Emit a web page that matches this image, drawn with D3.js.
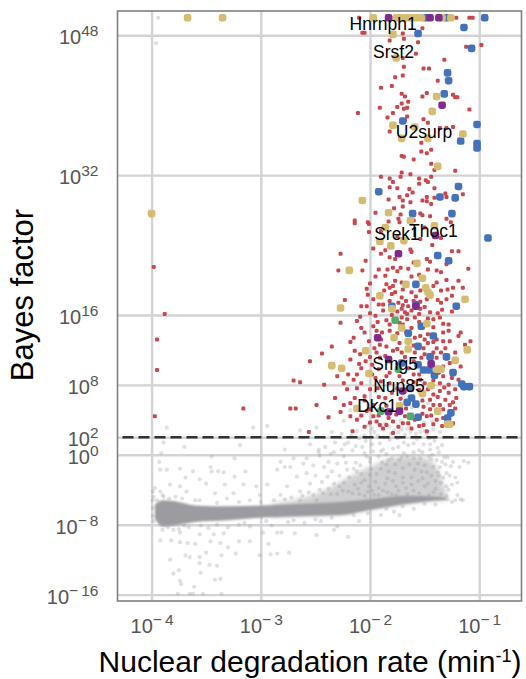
<!DOCTYPE html>
<html>
<head>
<meta charset="utf-8">
<script src="https://cdn.jsdelivr.net/npm/d3@7"></script>
<style>
body { margin: 0; background: #fff; }
text { font-family: "Liberation Sans", Arial, sans-serif; }
</style>
</head>
<body>
<div id="chart"></div>
<script>
// All points are [log10 rate, log10 Bayes factor]
var xTicks = [-4, -3, -2, -1];
var yTicks = [48, 32, 16, 8, 2, 0, -8, -16];
var cutoff = 2;

// dense band of the non significant genes
var bandX = [-3.97, -3.9, -3.8, -3.6, -3.3, -3, -2.6, -2.27, -2, -1.66, -1.36, -1.27];
var bandHi = [-5.7, -5.2, -5.3, -5.8, -5.9, -5.8, -5.6, -5.4, -5.1, -4.7, -4.8, -5.1];
var bandLo = [-7.3, -8.2, -8.1, -7.7, -7.5, -7.2, -7.0, -6.9, -6.3, -5.6, -5.2, -5.15];

// soft fog above the band
var cloudX = [-2.9, -2.6, -2.4, -2.2, -2.0, -1.8, -1.6, -1.45, -1.36, -1.29];
var cloudHi = [-5.6, -4.9, -4.0, -2.6, -1.4, -0.4, -0.2, -0.6, -2.2, -4.9];

var greyPoints = [
    [-3.94, 50], [-3.96, 47.1], [-3.86, 3.1], [-3.07, 3.1], [-2.94, 3.3], [-3.19, 1.1], [-3.7, 0.9], [-3.89, 1.4],
    [-2.78, 0.6], [-2.64, 2.8], [-2.49, 3.1], [-2.35, 2.6], [-2.26, 2.4], [-2.47, 0.6], [-2.33, 0.3],
    [-3.76, -15.9], [-3.65, -15.9], [-3.62, -15.9], [-3.53, -15.9], [-3.36, -15.9], [-3.61, -15.1], [-3.74, -14.4],
    [-3.73, -14.8], [-3.8, -13.6], [-3.75, -13.2], [-3.55, -13.5], [-3.42, -14.3], [-3.37, -14.2], [-3.47, -12.6],
    [-3.4, -12.7], [-3.56, -12.4], [-3.83, -12], [-3.69, -11.5], [-3.65, -11.7], [-3.56, -11.7], [-3.5, -11.2],
    [-3.36, -11.5], [-3.3, -10.6], [-3.23, -11.3], [-3.01, -11.5], [-2.91, -11.4], [-2.85, -11.3], [-2.74, -11.2],
    [-2.93, -10.2], [-3.1, -9.9], [-3.2, -9.9], [-3.37, -10.1], [-3.46, -9.9], [-3.6, -10.2], [-3.67, -10.1],
    [-3.74, -10], [-3.82, -9.8], [-3.92, -9.8], [-3.56, -9.1], [-3.43, -9.1], [-3.34, -9], [-3.74, -8.9],
    [-2.85, -8.9], [-2.69, -9], [-2.49, -9.2], [-2.98, -8.9], [-2.81, -8.9], [-2.33, -8.6], [-2.2, -9.4], [-1.73, -6.9],
    [-3.91, 0.2], [-3.93, -0.8], [-3.92, -1.7], [-3.86, -1.7], [-3.74, -1.6], [-3.62, -1.9], [-3.46, -1.4], [-3.45, -1.9],
    [-3.39, -1.9], [-3.34, -2], [-3.14, -1.9], [-3.24, -0.4], [-3.45, -0.2], [-3.24, -2.5], [-3.33, -3.4], [-3.42, -4.4],
    [-3.5, -3.3], [-3.56, -2.8], [-3.69, -2.6], [-3.74, -3.6], [-3.83, -3.4], [-3.97, -3.8], [-3.98, -4.8], [-3.92, -4.2],
    [-3.89, -4.8], [-3.68, -4.2], [-3.56, -5.2], [-3.31, -5], [-3.25, -4.4], [-3.16, -3.4], [-3.04, -3.6], [-3.01, -4.6],
    [-2.94, -3.4], [-2.82, -0.8], [-2.85, -1.7], [-2.78, -1.4], [-2.73, -1.4], [-2.61, -1], [-2.47, 0.3], [-2.52, -1.2],
    [-2.67, -2.5], [-2.76, -3.6], [-2.64, -4.2], [-2.55, -3.3], [-2.46, -4], [-2.39, -2.5], [-2.3, -1], [-2.24, -0.2],
    [-2.21, -1.7], [-2.33, -3.3], [-2.49, -5.2], [-2.64, -5.2], [-2.82, -4.6], [-2.88, -5.2], [-3.1, -5.2],
    [-3.99, -4.2], [-3.99, -5.2], [-3.99, -6.1], [-3.99, -7], [-3.98, -7.6], [-3.9, -8.6], [-3.8, -8.6], [-3.66, -8.3],
    [-2.2, 1.4], [-2.16, 0.5], [-2.13, -0.9], [-2.1, 1.9], [-2.08, -2.2], [-2.05, 0.2], [-2.02, 3.4], [-2.0, -0.8],
    [-1.98, 1.2], [-1.95, -3.1], [-1.93, 2.2], [-1.9, -1.6], [-1.88, 0.6], [-1.86, 3.6], [-1.84, -2.7], [-1.82, 1.7],
    [-1.8, -0.4], [-1.78, 2.8], [-1.76, -3.6], [-1.74, 0.9], [-1.72, 3.9], [-1.7, -1.5], [-1.68, 2.3], [-1.66, -0.2],
    [-1.64, 3.4], [-1.62, -2.6], [-1.6, 1.3], [-1.58, 4.4], [-1.56, -1], [-1.54, 2.6], [-1.52, 0.3], [-1.5, 3.7],
    [-1.48, -2], [-1.46, 1.9], [-1.44, -0.5], [-1.42, 2.9], [-1.4, -3], [-1.38, 0.8], [-1.36, -1.4], [-1.34, 1.1],
    [-1.32, -0.3], [-1.3, -2.1], [-1.28, -4], [-1.26, -1.3], [-1.24, -0.8], [-1.22, -2.6], [-1.2, -3.2], [-1.18, -1.4],
    [-1.17, -5.1], [-1.15, -5.2], [-1.2, -4.6], [-1.14, -0.7], [-1.1, -0.9], [-1.25, -3.4],
    [-2.24, 3.9], [-2.18, 5.1], [-2.1, 4.2], [-2.02, 5.6], [-1.95, 4.4], [-1.87, 6.1], [-1.8, 5.2], [-1.7, 6.6],
    [-1.62, 5.4], [-1.55, 7.1], [-1.47, 5.9], [-1.38, 4.8], [-1.31, 3.4], [-1.4, 6.8], [-1.76, 7.4], [-1.95, 7.2],
    [-2.02, -4.2], [-1.96, -4.6], [-1.88, -4.1], [-1.8, -4.5], [-1.7, -3.2], [-1.6, -4.1], [-1.5, -3.6], [-1.42, -4.3],
    [-2.14, -3.4], [-2.2, -4.2], [-2.28, -3.6], [-2.36, -4.5], [-2.42, -1.4], [-2.58, -2.1], [-2.7, -0.4], [-2.12, -1.9],
    [-2.08, -3.2], [-2.0, -2.3], [-1.92, -0.2], [-1.85, -1.1], [-1.77, -2.1], [-1.69, 1.4], [-1.6, -0.4], [-1.53, -1.9],
    [-1.45, 0.6], [-1.37, -2.4], [-2.3, -8.2], [-2.1, -7.6], [-2.6, -7.8], [-2.9, -8.1], [-3.1, -8.2], [-3.3, -8.3],
    [-1.9, -6.9], [-1.78, -6.5], [-1.6, -6.2], [-1.4, -5.7], [-2.45, -7.6], [-2.75, -7.7], [-3.48, -8.4], [-3.2, -8.0],
    // the thick part of the cloud
    [-2.58, -0.4], [-2.55, 1.2], [-2.5, -2.4], [-2.44, -3.1], [-2.41, 0.9], [-2.38, -0.8], [-2.35, -1.9], [-2.32, 1.4],
    [-2.28, -2.4], [-2.26, 0.6], [-2.24, -3.2], [-2.22, -0.9], [-2.19, -2.6], [-2.17, 2.2], [-2.15, -1.6], [-2.13, 1],
    [-2.11, -3.9], [-2.09, -1.2], [-2.07, 0.9], [-2.05, -2.9], [-2.04, 1.6], [-2.03, -0.2], [-2.01, -3.6], [-1.99, -1.6],
    [-1.97, 0.4], [-1.96, 2.6], [-1.94, -2.2], [-1.92, -3.8], [-1.91, 1.3], [-1.89, -0.9], [-1.87, 2], [-1.86, -3.3],
    [-1.85, 0.1], [-1.83, -1.9], [-1.81, 2.4], [-1.79, -3], [-1.79, 0.7], [-1.77, -1.1], [-1.75, 1.9], [-1.74, -4.1],
    [-1.73, -0.6], [-1.71, 2.9], [-1.7, -2.6], [-1.69, 0.2], [-1.67, -3.8], [-1.65, 1.1], [-1.64, -1.1], [-1.63, 2.6],
    [-1.62, -3.4], [-1.6, 0.3], [-1.59, -1.7], [-1.57, 1.8], [-1.56, -3], [-1.55, 0.5], [-1.54, -0.4], [-1.53, 3.2],
    [-1.52, -2.7], [-1.51, 1.2], [-1.5, -1.2], [-1.48, 2.4], [-1.47, -3.3], [-1.46, -0.2], [-1.45, 1.2], [-1.44, -2.4],
    [-1.43, 0], [-1.42, -1.4], [-1.41, 1.6], [-1.4, -3.9], [-1.39, -0.6], [-1.38, -2], [-1.37, 0.3], [-1.35, -3.2],
    [-1.34, -0.8], [-1.33, -2.6], [-1.31, -1.1], [-1.3, -3.6], [-1.29, -0.3], [-1.27, -2.4], [-2.46, -0.1], [-2.36, 0.1],
    [-2.23, 1.2], [-2.12, 2.7], [-2.05, 2.2], [-1.98, 3], [-1.9, 3.3], [-1.82, 3.2], [-1.74, 2.6], [-1.66, 3],
    [-1.58, 2.4], [-1.5, 2.7], [-1.43, 3.8], [-1.36, 2.6], [-1.9, 0.4], [-2.0, -0.4], [-1.83, -0.6], [-1.71, -0.3],
    [-2.62, -4.7], [-2.56, -4.3], [-2.52, -4.6], [-2.43, -4.4], [-2.38, -3.9], [-2.3, -4.5], [-2.25, -4.1], [-2.16, -4.4],
    [-2.1, -4.5], [-2.05, -4.7], [-1.98, -4.1], [-1.92, -4.6], [-1.84, -4.3], [-1.76, -4.6], [-1.66, -4.5], [-1.55, -4.4],
    [-1.46, -4.6], [-1.35, -4.5], [-1.3, -4.7], [-2.72, -4.9], [-2.78, -5.1], [-3.0, -5.4], [-3.2, -5.4], [-3.4, -5.5],
    [-3.6, -5.2], [-3.78, -4.8], [-3.84, -5], [-3.72, -5], [-3.9, -4.6], [-3.95, -5.2], [-3.93, -7.6], [-3.85, -8.3],
    [-3.75, -8.5], [-3.7, -8.1], [-3.55, -8.1], [-3.4, -8], [-3.15, -7.8], [-2.95, -7.6], [-2.7, -7.5], [-2.5, -7.4],
    [-2.35, -7.2], [-2.15, -6.9], [-2.02, -6.7], [-1.85, -6.2], [-1.7, -5.9], [-1.5, -5.6], [-1.25, -5.4], [-1.22, -5.2]
];

var redPoints = [
    [-2.10, 50], [-1.21, 50], [-1.09, 50], [-1.06, 50], [-2.07, 48.3], [-2.05, 48.3], [-1.70, 48.2], [-1.69, 47.6],
    [-1.82, 47.4], [-1.56, 47.2], [-1.52, 48.8], [-1.58, 45.9], [-1.12, 46.7], [-0.98, 46.9], [-1.70, 45.4], [-1.69, 44.4],
    [-1.32, 45.2], [-1.51, 44.2], [-1.46, 44.2], [-1.77, 43.2], [-1.70, 43.4], [-1.38, 42.8], [-1.90, 42], [-1.80, 42.2],
    [-1.71, 41.3], [-1.68, 41], [-1.52, 41], [-1.48, 41.4], [-1.24, 41.2], [-1.22, 40.9], [-1.20, 40.9], [-1.65, 40.4],
    [-1.71, 40.2], [-1.75, 39.8], [-1.69, 39.6], [-1.66, 39.7], [-1.91, 39.7], [-2.11, 39.1], [-1.79, 39.1], [-1.84, 38.6],
    [-1.66, 38.7], [-1.68, 38.3], [-1.51, 38.4], [-1.47, 38], [-1.09, 39.5], [-1.82, 37], [-1.36, 37.4], [-1.30, 37.4],
    [-1.24, 37.5], [-1.53, 35.7], [-1.53, 34.7], [-1.44, 34.9], [-1.48, 34.5], [-1.71, 34.2], [-1.69, 34.1], [-1.60, 33.8],
    [-1.44, 33.3], [-1.41, 32.6], [-1.22, 32.5], [-1.71, 32.3], [-1.63, 32.1], [-1.72, 31.8], [-1.90, 31.8], [-1.82, 31.6],
    [-1.79, 31.2], [-1.55, 31.6], [-1.49, 31.4], [-1.44, 31.8], [-1.47, 31.2], [-1.55, 31], [-1.82, 30.6], [-1.75, 30.5],
    [-1.41, 30.5], [-1.64, 30.4], [-1.61, 30], [-1.66, 29.7], [-1.73, 29.5], [-1.83, 29.2], [-1.70, 29.1], [-1.63, 28.9],
    [-1.52, 29.1], [-1.48, 29.5], [-1.48, 29], [-1.44, 28.7], [-1.41, 29.4], [-1.31, 29.9], [-1.30, 29.5], [-1.15, 29.8],
    [-1.70, 28.4], [-1.78, 28.2], [-1.54, 27.6], [-1.52, 27.4], [-1.45, 27.3], [-1.30, 27], [-1.26, 26.6], [-1.83, 26.7],
    [-1.73, 26.6], [-2.14, 26.5], [-2.01, 26.4],
    [-3.98, 21.5], [-3.88, 16.1], [-3.95, 13.2], [-3.95, 9.7], [-3.97, 4.4], [-3.16, 5.3], [-2.73, 5.3], [-2.70, 8.5],
    [-2.56, 2.6], [-2.44, 11.6], [-2.55, 10.7], [-2.64, 8.3], [-2.68, 5.3], [-2.49, 5.7], [-2.32, 6.5], [-2.27, 4.9],
    [-2.23, 17.7], [-2.18, 12.9], [-2.42, 8], [-2.29, 21.1], [-2.35, 12.4], [-2.38, 4.3], [-2.3, 9],
    [-2.14, 26.8], [-2.02, 26.6], [-2.01, 25.5], [-1.74, 27], [-2.27, 23], [-2.04, 22.2], [-1.86, 23.4], [-1.82, 22.6],
    [-1.77, 22.4], [-1.62, 23.2], [-1.48, 22.4], [-1.45, 22.1], [-1.25, 23.3], [-1.19, 23.3], [-1.54, 24.7], [-1.63, 23.5],
    [-1.92, 21.2], [-2.07, 21.1], [-1.84, 21.2], [-1.79, 21.4], [-1.72, 21.4], [-1.65, 21.3], [-1.39, 21.1], [-1.35, 20.9],
    [-1.10, 21.3], [-1.47, 21.2], [-1.30, 21.8], [-1.86, 20.5], [-1.77, 19.9], [-1.71, 19.7], [-1.62, 20.4], [-1.82, 19.1],
    [-1.79, 19.3], [-1.85, 19.5], [-1.39, 19.7], [-1.30, 20], [-1.19, 19.9], [-1.24, 19.1], [-1.35, 18.8], [-1.29, 18.9],
    [-1.70, 18.9], [-1.62, 18.6], [-1.54, 18.8], [-1.77, 18.6], [-1.80, 18.4], [-2.03, 19], [-2.02, 18.3], [-1.97, 17.8],
    [-1.38, 17.7], [-1.35, 17.4], [-1.30, 17.8], [-1.48, 17.8], [-1.54, 17.5], [-1.71, 18], [-1.67, 17.6], [-1.82, 17.6],
    [-1.88, 17.2], [-1.92, 17.2], [-2.03, 17], [-2.08, 17], [-1.70, 17.1], [-1.65, 17], [-1.71, 16.7], [-1.68, 16.3],
    [-1.62, 16.5], [-1.54, 16.7], [-1.45, 16.3], [-1.38, 16.2], [-1.88, 16.5], [-1.95, 15.9], [-2.09, 15.8], [-2.12, 15.3],
    [-2.27, 15.1], [-1.71, 15.7], [-1.66, 15.5], [-1.59, 15.7], [-1.42, 15.5], [-1.33, 15], [-1.28, 14.9], [-1.97, 14.7],
    [-1.82, 14.9], [-1.62, 14.5], [-1.73, 15.1], [-2.08, 14.5], [-1.89, 14], [-1.94, 14.2], [-1.82, 14.2], [-1.54, 13.6],
    [-1.33, 14], [-1.28, 14.2], [-1.17, 14], [-1.19, 13.6], [-1.47, 13.8], [-1.59, 13.4], [-2.01, 13], [-1.39, 13.2],
    [-1.33, 13], [-1.27, 13], [-1.08, 13], [-1.13, 12.6], [-1.73, 12.8], [-1.85, 12.4], [-1.91, 12.6], [-1.47, 12.8],
    [-1.51, 12.2], [-1.39, 12.2], [-1.31, 12.2], [-2.14, 11.9], [-2.09, 11.5], [-1.94, 11.7], [-1.79, 11.9], [-1.71, 11.7],
    [-1.59, 11.7], [-1.35, 11.7], [-1.22, 11.7], [-1.39, 11.1], [-2.04, 10.7], [-2.18, 10.9], [-1.91, 11.1], [-1.60, 10.7],
    [-1.53, 11.1], [-1.27, 10.5], [-1.17, 10.1], [-1.33, 10.1], [-2.08, 9.9], [-1.92, 9.8], [-2.20, 9.2], [-2.12, 9.2],
    [-1.95, 8.8], [-1.85, 9], [-1.60, 9.2], [-1.33, 9], [-1.25, 8.8], [-1.19, 8.6], [-1.54, 8.6], [-1.73, 9],
    [-2.08, 8.2], [-2.24, 8.2], [-1.36, 8.2], [-1.28, 8], [-1.82, 8.2], [-1.50, 8.2], [-2.0, 7.5], [-2.21, 7.5],
    [-1.80, 7.1], [-1.22, 7.5], [-1.36, 7.3], [-1.28, 7.1], [-1.42, 6.9], [-2.14, 6.5], [-2.05, 6.7], [-1.86, 6.5],
    [-2.24, 5.7], [-1.45, 6.3], [-1.31, 6.3], [-1.21, 6.5], [-1.36, 5.7], [-1.27, 5.7], [-1.51, 5.5], [-1.97, 5.7],
    [-1.45, 5.2], [-2.03, 5], [-2.18, 4.4], [-2.12, 4], [-1.97, 4.4], [-1.83, 4.2], [-1.48, 4.4], [-1.39, 4],
    [-1.33, 4.2], [-1.94, 3.8], [-1.91, 3.4], [-1.79, 3.8], [-1.70, 3.6], [-1.65, 3.6], [-1.59, 4], [-1.24, 3.6],
    [-1.51, 3.4], [-2.05, 3.2], [-1.88, 3], [-2.16, 2.7], [-1.79, 2.5], [-1.48, 2.7],
    [-1.6, 22], [-1.97, 23.6], [-1.9, 23], [-1.43, 24], [-1.75, 21], [-1.55, 20.6], [-1.95, 20.4], [-2, 19.6],
    [-1.87, 18.8], [-1.58, 18.1], [-1.42, 19.3], [-1.25, 18.2], [-1.15, 19.1], [-1.74, 17.4], [-1.6, 17.6], [-1.5, 16.9],
    [-1.34, 16.6], [-1.25, 16.4], [-2.0, 16.2], [-1.8, 16], [-1.75, 16.4], [-1.66, 16.1], [-1.55, 16.1], [-1.47, 15.6],
    [-1.36, 15.7], [-1.85, 15.4], [-1.93, 15.2], [-1.7, 14.9], [-1.55, 15.2], [-1.42, 14.6], [-1.67, 14.1], [-1.75, 13.9],
    [-2.15, 13.4], [-2.05, 14], [-1.9, 13.2], [-1.5, 13.2], [-1.42, 12.9], [-1.6, 12.5], [-1.75, 12.1], [-1.96, 12.2],
    [-2.0, 11.2], [-1.86, 11.3], [-1.68, 11.2], [-1.5, 11.5], [-1.42, 11.7], [-1.29, 11.1], [-1.75, 10.4], [-1.98, 10.3],
    [-2.1, 10.4], [-1.65, 9.9], [-1.37, 9.4], [-1.82, 9.4], [-1.55, 9.2], [-1.98, 9.2], [-2.15, 8.6], [-1.9, 8.4],
    [-1.7, 8.5], [-1.6, 8.3], [-1.42, 8.5], [-2.12, 7.6], [-1.93, 7.6], [-1.75, 7.6], [-1.55, 7.4], [-1.47, 7.5],
    [-1.32, 7.7], [-2.05, 6.2], [-1.92, 6.6], [-1.72, 6.4], [-1.52, 6.2], [-1.38, 6.6], [-1.24, 6], [-2.18, 5.9],
    [-2.0, 5.2], [-1.85, 5.6], [-1.67, 5.3], [-1.42, 5.7], [-1.33, 5.2], [-1.22, 5.3], [-2.08, 4.5], [-1.92, 4.5],
    [-1.76, 4.6], [-1.68, 4.4], [-1.52, 4.7], [-1.44, 4.5], [-1.85, 3.4], [-1.74, 3.2], [-1.62, 3], [-1.55, 3.3],
    [-1.42, 3.5], [-1.34, 3.3], [-2.0, 3.7], [-1.72, 27.5], [-1.95, 27.7], [-1.6, 26.8], [-1.5, 26], [-1.35, 24.8],
    [-1.75, 25], [-1.9, 25.6]
];

var tanPoints = [
    [-3.67, 50], [-3.35, 50], [-4.0, 27.6], [-1.97, 50], [-1.76, 50], [-1.72, 50], [-1.67, 50], [-1.63, 50], [-1.58, 50],
    [-1.53, 50], [-1.34, 50], [-1.26, 50], [-1.79, 48.1], [-1.76, 45.4], [-1.39, 41], [-1.43, 39.3], [-1.79, 37.7],
    [-1.59, 37.5], [-1.71, 36.2], [-1.47, 36.2], [-1.15, 36.7], [-1.38, 33], [-2.07, 29.1], [-1.83, 27.7], [-1.63, 26.8],
    [-1.41, 26.2], [-1.91, 24.4], [-1.81, 23.9], [-1.69, 24.5], [-1.86, 26], [-1.57, 21.9], [-2.19, 21.1], [-1.67, 19.5],
    [-1.52, 20.2], [-1.49, 19.1], [-1.47, 18.6], [-1.45, 18.3], [-1.91, 18.2], [-1.13, 17.8], [-1.80, 16.7], [-2.27, 16.8],
    [-1.48, 15], [-1.71, 14.5], [-1.78, 13.4], [-1.65, 13], [-1.65, 12.1], [-2.04, 11.9], [-1.11, 12], [-1.22, 10.8],
    [-1.39, 9.8], [-1.35, 9.8], [-2.26, 9.9], [-2.01, 9.3], [-1.44, 7.9], [-1.52, 7], [-2.12, 5.3], [-1.73, 5.6],
    [-1.38, 5], [-1.29, 3.5], [-1.27, 3.5], [-2.35, 10.2]
];

var bluePoints = [
    [-1.49, 50], [-1.30, 50], [-0.95, 50], [-1.14, 48.9], [-1.56, 48.2], [-1.07, 46.5], [-1.29, 43.7], [-1.28, 42.8],
    [-1.32, 41.3], [-1.70, 38.2], [-1.02, 37.8], [-1.17, 35.9], [-1.02, 35.6], [-1.02, 35.1], [-1.19, 30.7], [-1.92, 30.1],
    [-1.36, 29.5], [-1.22, 29.4], [-1.25, 27.6], [-1.61, 27.6], [-0.92, 24.8], [-1.38, 22.8], [-1.28, 22.2], [-1.58, 19.5],
    [-1.21, 17], [-1.8, 17], [-1.58, 17.2], [-1.53, 14.7], [-1.65, 13.9], [-1.42, 13.6], [-1.56, 12.4], [-1.45, 11.2],
    [-1.30, 11.2], [-1.71, 10.5], [-1.56, 10.3], [-1.51, 9.7], [-1.46, 9.7], [-1.41, 9.1], [-1.24, 9.4], [-1.16, 8.1],
    [-1.14, 7.8], [-1.09, 7.8], [-1.63, 7.6], [-1.62, 6.5], [-1.66, 6], [-1.58, 5.8], [-1.56, 4.3], [-1.26, 4.8], [-1.29, 4.2]
];

var purplePoints = [
    [-1.83, 50], [-1.45, 50], [-1.37, 50], [-1.34, 40], [-1.40, 25.1], [-1.74, 23], [-1.58, 17], [-1.93, 13.4],
    [-1.83, 10.9], [-1.44, 10.4], [-1.70, 7.3], [-1.83, 4.9], [-1.73, 5]
];

var greenPoints = [[-1.77, 15.4], [-1.74, 9.8], [-1.90, 5], [-1.63, 4.4]];

var geneNames = ["Hnrnph1", "Srsf2", "U2surp", "Srek1", "Thoc1", "Smg5", "Nup85", "Dkc1"];
var geneX = [-1.88, -1.785, -1.505, -1.753, -1.42, -1.77, -1.735, -1.935];
var geneY = [49.3, 46.1, 36.9, 25.3, 25.6, 10.4, 7.9, 5.6];

function pow10(v) { return Math.pow(10, v); }

function init() {
    var w = 526;
    var h = 679;
    var margin = { top: 11, right: 4.5, bottom: 78, left: 117.5 };

    var svg = d3.select("#chart")
        .append("svg")
        .attr("width", w)
        .attr("height", h)
        .style("display", "block");

    // Soft edge for the grey band and fog
    var defs = svg.append("defs");
    defs.append("filter").attr("id", "fog")
        .attr("x", "-10%").attr("y", "-30%").attr("width", "120%").attr("height", "160%")
        .append("feGaussianBlur").attr("stdDeviation", 2.5);
    defs.append("filter").attr("id", "soft")
        .attr("x", "-5%").attr("y", "-30%").attr("width", "110%").attr("height", "160%")
        .append("feGaussianBlur").attr("stdDeviation", 0.9);

    var x = d3.scaleLog()
        .domain([pow10(-4.312), pow10(-0.613)])
        .range([margin.left, w - margin.right]);

    var y = d3.scaleLog()
        .domain([pow10(-16.73), pow10(50.78)])
        .range([h - margin.bottom, margin.top]);

    var px = d => x(pow10(d[0]));
    var py = d => y(pow10(d[1]));

    // Grid lines come from the axes
    var xAxis = svg.append("g")
        .attr("transform", `translate(0,${h - margin.bottom})`)
        .call(d3.axisBottom(x)
            .tickValues(xTicks.map(pow10))
            .tickSize(-(h - margin.top - margin.bottom))
            .tickFormat(""));

    var yAxis = svg.append("g")
        .attr("transform", `translate(${margin.left},0)`)
        .call(d3.axisLeft(y)
            .tickValues(yTicks.map(pow10))
            .tickSize(-(w - margin.left - margin.right))
            .tickFormat(""));

    svg.selectAll(".domain").remove();
    svg.selectAll(".tick line")
        .attr("stroke", "#d3d3d5")
        .attr("stroke-width", 2.4);

    // Tick labels with superscript exponents
    function powerLabel(sel, exps) {
        sel.selectAll(".tick text").each(function (d, i) {
            var t = d3.select(this)
                .attr("fill", "#555")
                .style("font-size", "20px");
            t.text(null);
            t.append("tspan").text("10");
            t.append("tspan")
                .attr("dy", -8)
                .style("font-size", "15.5px")
                .text(exps[i] < 0 ? "\u2212\u2009" + (-exps[i]) : exps[i]);
        });
    }
    powerLabel(xAxis, xTicks);
    powerLabel(yAxis, yTicks);
    xAxis.selectAll(".tick text").attr("y", 32).attr("dy", 0);
    yAxis.selectAll(".tick text").attr("x", -19).attr("dy", 0).attr("y", 8.5).attr("text-anchor", "end");

    var area = svg.append("g");

    var cloud = cloudX.map((v, i) => ({ x: v, hi: cloudHi[i] }));
    var band = bandX.map((v, i) => ({ x: v, hi: bandHi[i], lo: bandLo[i] }));
    var bandLine = d3.scaleLinear().domain(bandX).range(bandLo);

    // Soft grey fog and the points on top of it
    area.append("path")
        .attr("d", d3.area().curve(d3.curveMonotoneX)
            .x(d => x(pow10(d.x)))
            .y0(d => y(pow10(bandLine(d.x))))
            .y1(d => y(pow10(d.hi)))(cloud))
        .attr("fill", "#b0b0b4")
        .attr("opacity", 0.6)
        .attr("filter", "url(#fog)");

    area.selectAll(".grey")
        .data(greyPoints)
        .enter().append("circle")
        .attr("class", "grey")
        .attr("cx", px)
        .attr("cy", py)
        .attr("r", 2.1)
        .attr("fill", "#98989c")
        .attr("opacity", 0.3);

    area.append("path")
        .attr("d", d3.area().curve(d3.curveMonotoneX)
            .x(d => x(pow10(d.x)))
            .y0(d => y(pow10(d.lo)))
            .y1(d => y(pow10(d.hi)))(band))
        .attr("fill", "#9c9ca0")
        .attr("filter", "url(#soft)");

    // Dashed cutoff
    svg.append("line")
        .attr("x1", margin.left + 5)
        .attr("x2", w - margin.right)
        .attr("y1", y(pow10(cutoff)))
        .attr("y2", y(pow10(cutoff)))
        .attr("stroke", "#333")
        .attr("stroke-width", 2.4)
        .attr("stroke-dasharray", "11,5");

    function drawSquares(data, size, color) {
        svg.append("g").selectAll("rect")
            .data(data)
            .enter().append("rect")
            .attr("x", d => px(d) - size / 2)
            .attr("y", d => py(d) - size / 2)
            .attr("width", size)
            .attr("height", size)
            .attr("rx", size * 0.32)
            .attr("fill", color);
    }

    drawSquares(redPoints, 4, "#c9474f");
    drawSquares(bluePoints, 7.6, "#4472ba");
    drawSquares(tanPoints, 7.6, "#d4bd72");
    drawSquares(purplePoints, 7.6, "#7f2a8c");
    drawSquares(greenPoints, 7.6, "#4fae6d");

    // Panel border
    svg.append("rect")
        .attr("x", margin.left)
        .attr("y", margin.top)
        .attr("width", w - margin.left - margin.right)
        .attr("height", h - margin.top - margin.bottom)
        .attr("fill", "none")
        .attr("stroke", "#808080")
        .attr("stroke-width", 1.6);

    // Gene labels
    svg.selectAll(".gene")
        .data(geneNames)
        .enter().append("text")
        .attr("class", "gene")
        .attr("x", (d, i) => x(pow10(geneX[i])))
        .attr("y", (d, i) => y(pow10(geneY[i])))
        .attr("text-anchor", "middle")
        .attr("dy", 6)
        .style("font-size", "17.5px")
        .attr("fill", "#000")
        .text(d => d);

    // Axis titles
    var xt = svg.append("text")
        .attr("x", 310)
        .attr("y", 672)
        .attr("text-anchor", "middle")
        .style("font-size", "30px")
        .attr("fill", "#000");
    xt.append("tspan").text("Nuclear degradation rate (min");
    xt.append("tspan").attr("dy", -10).style("font-size", "18px").text("-1");
    xt.append("tspan").attr("dy", 10).text(")");

    svg.append("text")
        .attr("transform", "translate(33,295) rotate(-90)")
        .attr("text-anchor", "middle")
        .style("font-size", "31px")
        .attr("fill", "#000")
        .text("Bayes factor");
}

window.onload = init;
</script>
</body>
</html>
